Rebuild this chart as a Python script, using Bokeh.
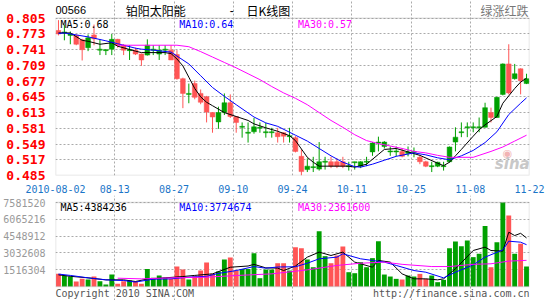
from bokeh.plotting import figure
from bokeh.layouts import column
from bokeh.models import Range1d, FixedTicker, NumeralTickFormatter, Label, BoxAnnotation
from bokeh.embed import file_html
from bokeh.resources import INLINE

# ---------------- data ----------------
opens = [0.780, 0.775, 0.770, 0.770, 0.761, 0.745, 0.771, 0.740, 0.739, 0.742,
         0.762, 0.750, 0.739, 0.740, 0.732, 0.730, 0.740, 0.732, 0.740, 0.740,
         0.731, 0.682, 0.650, 0.672, 0.652, 0.645, 0.613, 0.594, 0.613, 0.633,
         0.605, 0.583, 0.571, 0.574, 0.581, 0.572, 0.572, 0.572, 0.572, 0.564,
         0.562, 0.524, 0.497, 0.501, 0.498, 0.512, 0.513, 0.513, 0.513, 0.503,
         0.511, 0.504, 0.512, 0.533, 0.551, 0.544, 0.533, 0.533, 0.534, 0.530,
         0.532, 0.522, 0.513, 0.503, 0.504, 0.503, 0.513, 0.553, 0.572, 0.582,
         0.582, 0.582, 0.583, 0.613, 0.603, 0.650, 0.712, 0.682, 0.702, 0.672]
highs = [0.801, 0.792, 0.778, 0.772, 0.763, 0.772, 0.792, 0.762, 0.742, 0.773,
         0.763, 0.752, 0.750, 0.745, 0.733, 0.762, 0.750, 0.750, 0.750, 0.750,
         0.740, 0.684, 0.672, 0.678, 0.660, 0.647, 0.614, 0.625, 0.652, 0.650,
         0.606, 0.593, 0.593, 0.602, 0.593, 0.592, 0.582, 0.582, 0.573, 0.582,
         0.565, 0.538, 0.520, 0.523, 0.553, 0.523, 0.523, 0.520, 0.523, 0.513,
         0.513, 0.514, 0.523, 0.553, 0.564, 0.555, 0.544, 0.544, 0.540, 0.544,
         0.542, 0.526, 0.515, 0.513, 0.513, 0.513, 0.544, 0.583, 0.593, 0.593,
         0.593, 0.603, 0.633, 0.623, 0.645, 0.713, 0.752, 0.712, 0.703, 0.692]
lows = [0.770, 0.760, 0.752, 0.750, 0.719, 0.738, 0.750, 0.730, 0.730, 0.730,
        0.745, 0.730, 0.720, 0.730, 0.708, 0.729, 0.730, 0.720, 0.730, 0.720,
        0.680, 0.622, 0.632, 0.640, 0.630, 0.593, 0.572, 0.580, 0.608, 0.602,
        0.572, 0.562, 0.552, 0.570, 0.572, 0.562, 0.562, 0.552, 0.552, 0.552,
        0.532, 0.485, 0.492, 0.492, 0.495, 0.497, 0.500, 0.500, 0.500, 0.495,
        0.497, 0.500, 0.504, 0.525, 0.534, 0.540, 0.525, 0.524, 0.522, 0.524,
        0.522, 0.508, 0.502, 0.492, 0.502, 0.495, 0.511, 0.534, 0.563, 0.563,
        0.573, 0.573, 0.583, 0.593, 0.602, 0.648, 0.650, 0.680, 0.650, 0.671]
closes = [0.773, 0.777, 0.773, 0.752, 0.741, 0.765, 0.763, 0.742, 0.741, 0.762,
          0.750, 0.740, 0.741, 0.732, 0.720, 0.750, 0.742, 0.740, 0.742, 0.720,
          0.682, 0.652, 0.652, 0.644, 0.634, 0.614, 0.604, 0.613, 0.633, 0.605,
          0.593, 0.585, 0.573, 0.584, 0.583, 0.574, 0.574, 0.564, 0.565, 0.566,
          0.534, 0.493, 0.504, 0.503, 0.513, 0.514, 0.504, 0.504, 0.504, 0.505,
          0.513, 0.513, 0.514, 0.551, 0.553, 0.553, 0.535, 0.535, 0.524, 0.533,
          0.534, 0.513, 0.504, 0.505, 0.512, 0.505, 0.543, 0.563, 0.574, 0.584,
          0.584, 0.584, 0.623, 0.603, 0.644, 0.712, 0.653, 0.692, 0.678, 0.682]
volumes = [1140000, 990000, 900000, 450000, 690000, 630000, 900000, 480000, 180000, 1080000,
           240000, 480000, 540000, 480000, 240000, 1590000, 780000, 990000, 780000, 690000,
           1800000, 1530000, 630000, 930000, 1440000, 2170000, 1140000, 1350000, 2440000, 2620000,
           1440000, 1590000, 1590000, 3010000, 750000, 1530000, 1530000, 2100000, 2100000, 1440000,
           3550000, 3460000, 2440000, 1740000, 4990000, 2740000, 2100000, 2800000, 3610000, 1290000,
           1200000, 2200000, 1740000, 2560000, 4090000, 1080000, 900000, 690000, 630000, 990000,
           900000, 1140000, 690000, 990000, 390000, 600000, 3460000, 4060000, 3640000, 4150000,
           2650000, 2950000, 5450000, 1740000, 4000000, 7580000, 6410000, 2950000, 3850000, 1800000]

# moving-average lines (candle index, value)
ma5_i = [0, 2, 4, 5, 7, 9, 10, 13, 14, 18, 19, 20, 21, 22, 23, 24, 25, 26, 28, 30, 32, 33, 35, 37, 39,
         40, 42, 43, 44, 46, 49, 50, 52, 54, 55, 57, 59, 61, 64, 65, 66, 67, 68, 70, 71, 72, 74, 75, 77, 78, 79]
ma5_v = [0.775, 0.775, 0.760, 0.758, 0.752, 0.755, 0.748, 0.738, 0.735, 0.735, 0.733, 0.722, 0.708,
         0.685, 0.662, 0.645, 0.634, 0.627, 0.613, 0.605, 0.597, 0.590, 0.582, 0.575, 0.566, 0.556,
         0.522, 0.512, 0.504, 0.504, 0.504, 0.502, 0.508, 0.528, 0.538, 0.540, 0.533, 0.526, 0.510,
         0.505, 0.512, 0.525, 0.538, 0.565, 0.578, 0.588, 0.605, 0.632, 0.662, 0.675, 0.683]
ma10_i = [0, 1, 3, 5, 8, 10, 13, 14, 16, 19, 20, 22, 24, 26, 28, 30, 33, 35, 37, 40, 42, 44, 46, 48,
          50, 51, 53, 55, 57, 60, 62, 64, 66, 68, 70, 72, 74, 76, 78, 79]
ma10_v = [0.774, 0.775, 0.771, 0.767, 0.759, 0.753, 0.744, 0.742, 0.740, 0.736, 0.728, 0.712, 0.688,
          0.664, 0.646, 0.629, 0.604, 0.592, 0.585, 0.567, 0.555, 0.540, 0.525, 0.512, 0.503, 0.502,
          0.508, 0.516, 0.524, 0.531, 0.527, 0.521, 0.517, 0.525, 0.536, 0.552, 0.574, 0.609, 0.632, 0.643]
ma30_i = [10, 20, 22, 24, 26, 28, 30, 32, 34, 36, 38, 40, 42, 44, 46, 48, 50, 52, 54, 56, 58, 60,
          62, 64, 66, 70, 73, 75, 77, 79]
ma30_v = [0.750, 0.750, 0.747, 0.737, 0.726, 0.715, 0.704, 0.692, 0.680, 0.666, 0.653, 0.642, 0.629,
          0.613, 0.597, 0.583, 0.568, 0.556, 0.550, 0.545, 0.540, 0.534, 0.531, 0.526, 0.522, 0.522,
          0.534, 0.543, 0.555, 0.567]

vma5_i = [0, 2, 5, 8, 11, 13, 15, 18, 21, 23, 26, 29, 32, 33, 35, 37, 38, 40, 42, 44, 46, 48, 50, 51,
          53, 54, 56, 58, 60, 62, 64, 65, 67, 70, 72, 73, 75, 76, 77, 78, 79]
vma5_v = [1050000, 920000, 780000, 600000, 600000, 450000, 680000, 780000, 900000, 1000000, 1140000,
          1740000, 1850000, 2000000, 1680000, 1660000, 1440000, 1850000, 2650000, 3100000, 2800000,
          3100000, 2200000, 2050000, 1740000, 2350000, 2200000, 1140000, 690000, 690000, 600000,
          690000, 1600000, 3250000, 3550000, 3250000, 3190000, 4900000, 4600000, 4800000, 4384236]
vma10_i = [0, 2, 5, 8, 11, 13, 16, 19, 22, 25, 27, 30, 33, 35, 37, 40, 42, 44, 47, 48, 51, 53, 55,
           57, 60, 62, 65, 67, 70, 72, 75, 76, 78, 79]
vma10_v = [1120000, 1000000, 780000, 600000, 540000, 400000, 660000, 690000, 840000, 920000, 1180000,
           1440000, 1800000, 1650000, 1760000, 1780000, 2100000, 2500000, 2650000, 2950000, 2500000,
           2350000, 2200000, 1900000, 1440000, 1290000, 780000, 1290000, 1950000, 2650000, 3300000,
           4090000, 4000000, 3774674]
vma30_i = [10, 14, 19, 25, 30, 36, 40, 42, 45, 47, 51, 55, 58, 63, 66, 70, 73, 76, 79]
vma30_v = [750000, 690000, 780000, 840000, 990000, 1140000, 1380000, 1500000, 1740000, 1900000,
           2100000, 2200000, 2000000, 1800000, 1800000, 2000000, 2050000, 2290000, 2361600]

date_labels = ["2010-08-02", "08-13", "08-27", "09-10", "09-24", "10-11", "10-25", "11-08", "11-22"]
price_ticks = [0.485, 0.517, 0.549, 0.581, 0.613, 0.645, 0.677, 0.709, 0.741, 0.773, 0.805]
volume_ticks = [1516304, 3032608, 4548912, 6065216, 7581520]

stock_code = "00566"
stock_name = "铂阳太阳能"
chart_kind = "日K线图"
legend_note = "绿涨红跌"
ma_price_labels = ["MA5:0.68", "MA10:0.64", "MA30:0.57"]
ma_vol_labels = ["MA5:4384236", "MA10:3774674", "MA30:2361600"]
copyright_text = "Copyright 2010 SINA.COM"
source_text = "http://finance.sina.com.cn"

# ---------------- styling / geometry ----------------
UP = "#00a000"      # green = rise
DOWN = "#ff5555"    # red = fall
MA_COLORS = ["#000000", "#0000ff", "#ff00ff"]
GRID = "#aaaaaa"
BORDER = "#999999"
MONO = "DejaVu Sans Mono"
CJK = "Noto Sans CJK SC"

W = 545
LEFT, RIGHT = 50, 16
FRAME_W = W - LEFT - RIGHT
P_TOP, P_BOT = 18, 178          # price plot area, page pixels
H1 = 195                        # height of price figure
V_TOP, V_BOT = 202, 286         # volume plot area, page pixels
H2 = 300 - H1

n = len(opens)
xs = [i + 0.5 for i in range(n)]
colors = [UP if c >= o else DOWN for o, c in zip(opens, closes)]
tops = [max(o, c) for o, c in zip(opens, closes)]
bots = [min(o, c) for o, c in zip(opens, closes)]
tick_x = [10 * k for k in range(len(date_labels))]
x_range = Range1d(0, n)

pmin, pmax = price_ticks[0], price_ticks[-1]
pscale = (pmax - pmin) / (P_BOT - P_TOP)
vmax = volume_ticks[-1]
vscale = vmax / (V_BOT - V_TOP)

def py(px):
    return pmax + (P_TOP - px) * pscale

def vy(px):
    return (V_BOT - px) * vscale

def xd(px):
    return (px - LEFT) * n / FRAME_W

def style(p, lo, hi):
    p.outline_line_color = None
    p.background_fill_color = "white"
    p.border_fill_color = "white"
    for ax in (p.xaxis, p.yaxis):
        ax.axis_line_color = None
        ax.major_tick_line_color = None
        ax.minor_tick_line_color = None
    p.xgrid.ticker = FixedTicker(ticks=tick_x)
    p.xgrid.bounds = (lo, hi)
    for g in (p.xgrid, p.ygrid):
        g.grid_line_color = GRID
        g.grid_line_dash = "2 2"
        g.grid_line_width = 1
    p.add_layout(BoxAnnotation(left=0, right=n, bottom=lo, top=hi, fill_alpha=0,
                               line_color=BORDER, line_width=1.5, level="overlay"))

# ---------------- price panel ----------------
p1 = figure(width=W, height=H1, x_range=x_range, y_range=Range1d(pmin, py(0)),
            output_backend="svg", toolbar_location=None,
            min_border_left=LEFT, min_border_right=RIGHT, min_border_top=0,
            min_border_bottom=H1 - P_BOT)
style(p1, pmin, pmax)
p1.yaxis.ticker = FixedTicker(ticks=price_ticks)
p1.ygrid.ticker = FixedTicker(ticks=price_ticks)
p1.yaxis.formatter = NumeralTickFormatter(format="0.000")
p1.yaxis.major_label_text_color = "#ff0000"
p1.yaxis.major_label_text_font = MONO
p1.yaxis.major_label_text_font_style = "bold"
p1.yaxis.major_label_text_font_size = "13px"
p1.yaxis.major_label_standoff = 4
p1.xaxis.ticker = FixedTicker(ticks=tick_x)
p1.xaxis.major_label_overrides = {t: s for t, s in zip(tick_x, date_labels)}
p1.xaxis.major_label_text_color = "#1a75c8"
p1.xaxis.major_label_text_font = MONO
p1.xaxis.major_label_text_font_size = "10px"
p1.xaxis.major_label_standoff = 3

p1.segment(x0=xs, y0=lows, x1=xs, y1=highs, color=colors, line_width=1)
p1.vbar(x=xs, top=tops, bottom=bots, width=0.8, fill_color=colors, line_color=colors, line_width=0.5)
for ii, vv, col in ((ma5_i, ma5_v, MA_COLORS[0]), (ma10_i, ma10_v, MA_COLORS[1]), (ma30_i, ma30_v, MA_COLORS[2])):
    p1.line([i + 0.5 for i in ii], vv, line_color=col, line_width=1)

def plabel(px, pyy, text, font, size, color, align="left", style_="normal"):
    p1.add_layout(Label(x=xd(px), y=py(pyy), text=text, text_font=font, text_font_size=size,
                        text_baseline="middle", text_align=align, text_color=color,
                        text_font_style=style_))

plabel(50, 10, stock_code, "Liberation Sans", "11px", "#000000")
plabel(121, 10, stock_name, CJK, "12px", "#000000")
plabel(226, 10, "-", "Liberation Sans", "12px", "#000000")
plabel(243, 10, chart_kind, CJK, "12px", "#000000")
plabel(528, 10, legend_note, CJK, "12px", "#777777", align="right")
for k, (t, col) in enumerate(zip(ma_price_labels, MA_COLORS)):
    plabel(55 + 120 * k, 24, t, MONO, "10px", col)
plabel(502, 156, "◉", "DejaVu Sans", "11px", "#f2b4b4")
plabel(494, 166, "sina", "DejaVu Sans", "15px", "#c8c8c8", style_="bold italic")

# ---------------- volume panel ----------------
p2 = figure(width=W, height=H2, x_range=x_range, y_range=Range1d(vy(300), vy(H1)),
            output_backend="svg", toolbar_location=None,
            min_border_left=LEFT, min_border_right=RIGHT, min_border_top=0, min_border_bottom=0)
style(p2, 0, vmax)
p2.xaxis.visible = False
p2.yaxis.ticker = FixedTicker(ticks=volume_ticks)
p2.ygrid.ticker = FixedTicker(ticks=volume_ticks)
p2.yaxis.formatter = NumeralTickFormatter(format="0")
p2.yaxis.major_label_text_color = "#999999"
p2.yaxis.major_label_text_font = MONO
p2.yaxis.major_label_text_font_size = "10px"
p2.yaxis.major_label_standoff = 4

p2.vbar(x=xs, top=volumes, bottom=0, width=0.82, fill_color=colors, line_color=None)
for ii, vv, col in ((vma5_i, vma5_v, MA_COLORS[0]), (vma10_i, vma10_v, MA_COLORS[1]), (vma30_i, vma30_v, MA_COLORS[2])):
    p2.line([i + 0.5 for i in ii], vv, line_color=col, line_width=1)

def vlabel(px, pyy, text, color, align="left"):
    p2.add_layout(Label(x=xd(px), y=vy(pyy), text=text, text_font=MONO, text_font_size="10px",
                        text_baseline="middle", text_align=align, text_color=color))

for k, (t, col) in enumerate(zip(ma_vol_labels, MA_COLORS)):
    vlabel(55 + 120 * k, 207, t, col)
vlabel(50, 293, copyright_text, "#555555")
vlabel(529, 293, source_text, "#555555", align="right")

layout = column(p1, p2, spacing=0)
open("out.html", "w").write(file_html(layout, INLINE))
